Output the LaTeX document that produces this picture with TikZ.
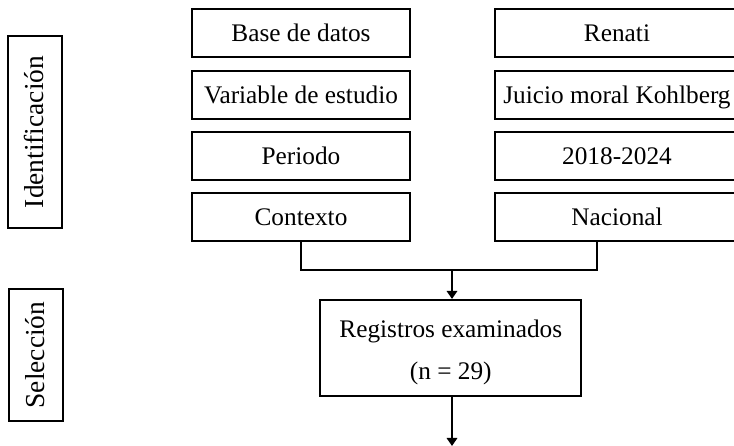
\documentclass[tikz,border=0pt]{standalone}
\usepackage{fontspec}
\setmainfont{Liberation Serif}
\usetikzlibrary{arrows.meta,calc}
\tikzset{
	marco/.style={draw, line width=1.5pt, inner sep=0pt, font=\fontsize{18}{30}\selectfont},
	caja/.style={marco, minimum height=1.2cm, text height=12pt, text depth=0pt},
	cajaizq/.style={caja, minimum width=5.45cm},
	cajader/.style={caja, minimum width=6.1cm},
	etapa/.style={caja, rotate=90, minimum height=1.35cm, font=\fontsize{19.5}{24}\selectfont},
	linea/.style={line width=1.5pt},
	flecha/.style={line width=1.5pt, -{Triangle[length=0.2cm,width=0.26cm]}}
}

\begin{document}
\begin{tikzpicture}
			%%%%% START %%%%%
			
			\useasboundingbox (0, 0) rectangle (18.35, 11.15);
			
			\node[etapa, minimum width=4.8cm] (identificacion) at (0.875, 7.85) {Identificación};
			\node[etapa, minimum width=3.3cm] (seleccion) at (0.89, 2.275) {Selección};
			
			\node[cajaizq] (base) at (7.525, 10.325) {Base de datos};
			\node[cajaizq] (variable) at (7.525, 8.775) {Variable de estudio};
			\node[cajaizq] (periodo) at (7.525, 7.25) {Periodo};
			\node[cajaizq] (contexto) at (7.525, 5.725) {Contexto};
			
			\node[cajader] (renati) at (15.425, 10.325) {Renati};
			\node[cajader] (juicio) at (15.425, 8.775) {Juicio moral Kohlberg};
			\node[cajader] (anios) at (15.425, 7.25) {2018-2024};
			\node[cajader] (nacional) at (15.425, 5.725) {Nacional};
			
			\node[marco, minimum width=6.525cm, minimum height=2.4cm, align=center] (registros) at (11.27, 2.45) {\rule{0pt}{19pt}Registros examinados\\(n = 29)};
			
			\coordinate (union) at (11.3, 4.4);
			\coordinate (fin) at (11.3, 0);
			
			\draw[linea] (contexto.south) |- (union) -| ([xshift=-0.5cm]nacional.south);
			\draw[flecha] (union) -- (union |- registros.north);
			\draw[flecha] (fin |- registros.south) -- (fin);
			
			%%%%% END %%%%%
\end{tikzpicture}
\end{document}
